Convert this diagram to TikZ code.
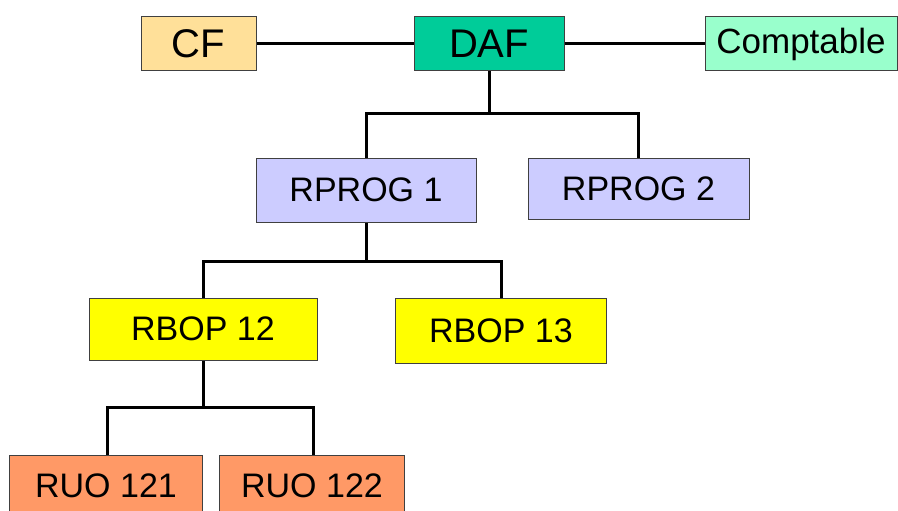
\documentclass[tikz,border=0pt]{standalone}
\usepackage{fontspec}
\setmainfont{Liberation Sans}
\usetikzlibrary{positioning}
\definecolor{cfcol}{HTML}{FFE099}
\definecolor{dafcol}{HTML}{00CC99}
\definecolor{compcol}{HTML}{99FFCC}
\definecolor{progcol}{HTML}{CCCCFF}
\definecolor{bopcol}{HTML}{FFFF00}
\definecolor{ruocol}{HTML}{FF9966}
\tikzset{
    box/.style={draw=black!75, line width=1pt, inner sep=0pt, align=center, font=\fontsize{34}{38}\selectfont},
    cfbox/.style={box, fill=cfcol, minimum width=115pt, minimum height=54pt, font=\fontsize{40}{44}\selectfont},
    dafbox/.style={box, fill=dafcol, minimum width=150pt, minimum height=54pt, font=\fontsize{40}{44}\selectfont},
    compbox/.style={box, fill=compcol, minimum width=192pt, minimum height=54pt, font=\fontsize{35}{38}\selectfont},
    progbox/.style={box, fill=progcol, minimum width=220pt, minimum height=62pt},
    bopbox/.style={box, fill=bopcol, minimum width=220pt, minimum height=63pt},
    ruobox/.style={box, fill=ruocol, minimum width=189pt, minimum height=62pt},
    link/.style={line width=3pt},
}
\begin{document}
\begin{tikzpicture}[x=1pt, y=-1pt]
\useasboundingbox (0,0) rectangle (898,511);
% top row
\node[dafbox] (DAF) at (489,44) {DAF};
\node[cfbox] (CF) at (198.5,44) {CF};
\node[compbox] (Comp) at (801,44) {Comptable};
% programmes
\node[progbox, minimum height=64pt] (RP1) at (366,190) {RPROG 1};
\node[progbox, minimum width=221pt, minimum height=61pt] (RP2) at (638.5,188.5) {RPROG 2};
% budgets
\node[bopbox, minimum width=228pt, minimum height=62pt] (RB12) at (203,329) {RBOP 12};
\node[bopbox, minimum width=211pt, minimum height=65pt] (RB13) at (501,330.5) {RBOP 13};
% units
\node[ruobox, minimum width=193pt] (RU121) at (106,486) {RUO 121};
\node[ruobox, minimum width=185pt] (RU122) at (312,486) {RUO 122};

\coordinate (bus1) at (489,114);
\coordinate (bus2) at (366,261);
\coordinate (bus3) at (203,407);

\draw[link] (CF) -- (DAF);
\draw[link] (DAF) -- (Comp);
\draw[link] (DAF.south) -- (bus1);
\draw[link] (RP1.north) |- (bus1) -| (RP2.north);
\draw[link] (RP1.south) -- (bus2);
\draw[link] (RB12.north) |- (bus2) -| (RB13.north);
\draw[link] (RB12.south) -- (bus3);
\draw[link] (RU121.north -| 107,0) |- (bus3) -| (RU122.north -| 313,0);
\end{tikzpicture}
\end{document}
